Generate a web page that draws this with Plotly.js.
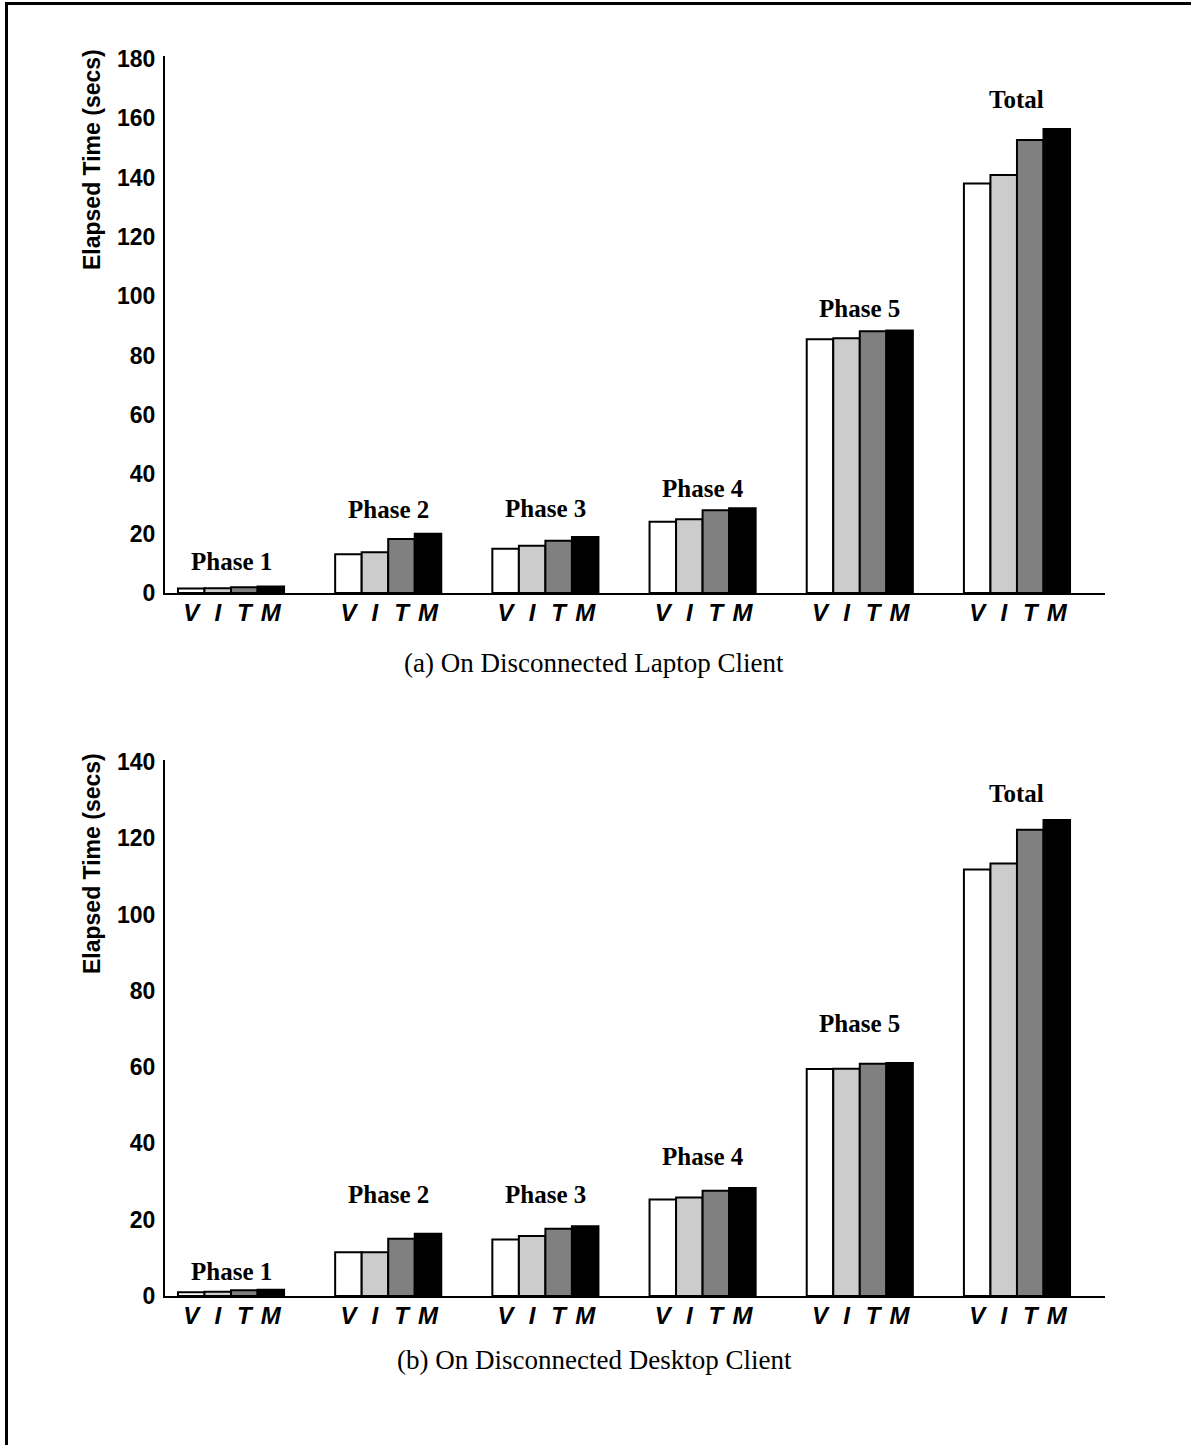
<!DOCTYPE html>
<html>
<head>
<meta charset="utf-8">
<script src="https://cdn.plot.ly/plotly-3.0.1.min.js"></script>
<style>
  html, body { margin: 0; padding: 0; background: #fff; }
  #wrap { position: relative; width: 1191px; height: 1445px; overflow: hidden; }
  #chart { position: absolute; left: 0; top: 0; width: 1191px; height: 1445px; }
  #frame { position: absolute; left: 5px; top: 2px; width: 1200px; height: 1460px;
           border-top: 3px solid #000; border-left: 3px solid #000; pointer-events: none; }
</style>
</head>
<body>
<div id="wrap">
  <div id="chart"></div>
  <div id="frame"></div>
</div>
<script>
// ---- data ----
const groups = ["Phase 1", "Phase 2", "Phase 3", "Phase 4", "Phase 5", "Total"];
const seriesNames = ["V", "I", "T", "M"];

// (a) laptop client
const laptopV = [1.5, 13.1, 14.9, 24.0, 85.5, 138.0];
const laptopI = [1.6, 13.7, 15.9, 24.9, 85.9, 140.9];
const laptopT = [1.9, 18.2, 17.6, 27.9, 88.2, 152.7];
const laptopM = [2.2, 20.0, 18.9, 28.6, 88.5, 156.4];
const laptopLabelLevel = [7.8, 25.2, 25.7, 32.5, 93.0, 163.5];

// (b) desktop client
const desktopV = [1.0, 11.5, 14.8, 25.3, 59.5, 111.8];
const desktopI = [1.1, 11.5, 15.7, 25.8, 59.6, 113.4];
const desktopT = [1.5, 15.0, 17.6, 27.6, 60.9, 122.2];
const desktopM = [1.65, 16.3, 18.3, 28.3, 61.1, 124.8];
const desktopLabelLevel = [4.2, 24.4, 24.4, 34.3, 69.3, 129.6];

const laptopTicks = [0, 20, 40, 60, 80, 100, 120, 140, 160, 180];
const desktopTicks = [0, 20, 40, 60, 80, 100, 120, 140];

const captionA = "(a) On Disconnected Laptop Client";
const captionB = "(b) On Disconnected Desktop Client";
const yTitle = "Elapsed Time (secs)";

// ---- styles ----
const fills = ["#ffffff", "#cccccc", "#808080", "#000000"];
const W = 1191, H = 1445;
const BARGAP = 0.325;
const barW = (1 - BARGAP) / seriesNames.length;
const xIdx = groups.map((g, i) => i);

const sans = "Liberation Sans, Arial, sans-serif";
const serif = "Liberation Serif, Times New Roman, serif";

function barsFor(series, xa, ya) {
  return series.map((vals, j) => ({
    type: "bar",
    x: xIdx,
    y: vals,
    name: seriesNames[j],
    xaxis: xa, yaxis: ya,
    marker: { color: fills[j], line: { color: "#000", width: 2 } },
    hoverinfo: "y",
    showlegend: false
  }));
}

const traces = [
  ...barsFor([laptopV, laptopI, laptopT, laptopM], "x", "y"),
  ...barsFor([desktopV, desktopI, desktopT, desktopM], "x2", "y2")
];

// letter ticks under each bar
const tickVals = [], tickText = [];
xIdx.forEach(i => {
  seriesNames.forEach((s, j) => {
    tickVals.push(i + (j - (seriesNames.length - 1) / 2) * barW);
    tickText.push("<b><i>" + s + "</i></b>");
  });
});

const xDomain = [165 / W, 1105 / W];
const xRange = [-0.42, 5.56];

function xAxis(anchor) {
  return {
    domain: xDomain, range: xRange, anchor: anchor,
    showline: true, linecolor: "#000", linewidth: 2,
    showgrid: false, zeroline: false,
    tickmode: "array", tickvals: tickVals, ticktext: tickText,
    ticks: "", ticklabelstandoff: -3,
    tickfont: { family: sans, size: 24, color: "#000" },
    fixedrange: true
  };
}
function yAxis(anchor, domain, range, ticks) {
  return {
    domain: domain, range: range, anchor: anchor,
    showline: true, linecolor: "#000", linewidth: 2,
    showgrid: false, zeroline: false,
    tickmode: "array", tickvals: ticks, ticktext: ticks.map(t => "<b>" + t + "</b>"),
    ticks: "", ticklabelstandoff: 3,
    tickfont: { family: sans, size: 23, color: "#000" },
    fixedrange: true
  };
}

const annotations = [];
function phaseLabels(levels, xref, yref) {
  groups.forEach((g, i) => {
    annotations.push({
      x: i, y: levels[i], xref: xref, yref: yref,
      text: "<b>" + g + "</b>", showarrow: false,
      xanchor: "center", yanchor: "bottom", yshift: -7,
      font: { family: serif, size: 25, color: "#000" }
    });
  });
}
phaseLabels(laptopLabelLevel, "x", "y");
phaseLabels(desktopLabelLevel, "x2", "y2");

annotations.push({
  xref: "paper", yref: "paper", x: 92 / W, y: 1 - 160 / H,
  text: "<b>" + yTitle + "</b>", textangle: -90, showarrow: false,
  xanchor: "center", yanchor: "middle",
  font: { family: sans, size: 23, color: "#000" }
});
annotations.push({
  xref: "paper", yref: "paper", x: 92 / W, y: 1 - 864 / H,
  text: "<b>" + yTitle + "</b>", textangle: -90, showarrow: false,
  xanchor: "center", yanchor: "middle",
  font: { family: sans, size: 23, color: "#000" }
});
annotations.push({
  xref: "paper", yref: "paper", x: 594 / W, y: 1 - 663 / H,
  text: captionA, showarrow: false, xanchor: "center", yanchor: "middle",
  font: { family: serif, size: 27, color: "#000" }
});
annotations.push({
  xref: "paper", yref: "paper", x: 594 / W, y: 1 - 1360 / H,
  text: captionB, showarrow: false, xanchor: "center", yanchor: "middle",
  font: { family: serif, size: 27, color: "#000" }
});

const layout = {
  width: W, height: H,
  margin: { l: 0, r: 0, t: 0, b: 0, pad: 0 },
  paper_bgcolor: "#fff", plot_bgcolor: "#fff",
  barmode: "group", bargap: BARGAP, bargroupgap: 0,
  showlegend: false,
  xaxis: xAxis("y"),
  yaxis: yAxis("x", [1 - 593 / H, 1 - 56 / H], [0, 181], laptopTicks),
  xaxis2: xAxis("y2"),
  yaxis2: yAxis("x2", [1 - 1296 / H, 1 - 760 / H], [0, 140.5], desktopTicks),
  annotations: annotations
};

Plotly.newPlot("chart", traces, layout, { displayModeBar: false, staticPlot: true });
</script>
</body>
</html>
